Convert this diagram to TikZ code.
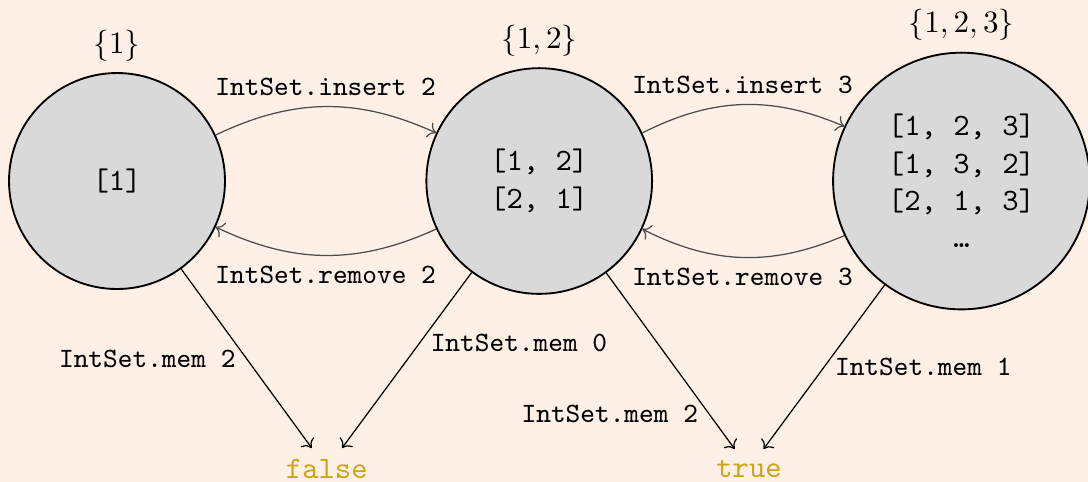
\documentclass[tikz,border=0pt]{standalone}
\usepackage{amsmath,amssymb}
\usepackage{tikz}
\usetikzlibrary{arrows.meta}
\definecolor{bgpeach}{RGB}{255,240,231}
\definecolor{boolgold}{RGB}{205,165,20}

\begin{document}
\begin{tikzpicture}[
  state/.style={circle, draw, semithick, fill=gray!30, font=\ttfamily, align=center},
  op/.style={font=\ttfamily\small, text=black},
  trans/.style={-{To}, black!70},
  result/.style={font=\ttfamily, text=boolgold}]
  \fill[bgpeach] (-1.322,-3.40) rectangle (10.97,2.045);
  \useasboundingbox (-1.322,-3.40) rectangle (10.97,2.045);

  \node[state, minimum size=2.44cm, label=above:{$\{1\}$}] (s1) at (0,0) {[1]};
  \node[state, minimum size=2.55cm, label=above:{$\{1,2\}$}] (s12) at (4.77,0) {[1, 2]\\{}[2, 1]};
  \node[state, minimum size=2.9cm, label=above:{$\{1,2,3\}$}] (s123) at (9.54,0)
    {[1, 2, 3]\\{}[1, 3, 2]\\{}[2, 1, 3]\\\dots};
  \node[result] (f) at (2.37,-3.25) {false};
  \node[result] (t) at (7.14,-3.25) {true};

  \draw[trans] (s1) to[bend left=25] node[op, above] {IntSet.insert 2} (s12);
  \draw[trans] (s12) to[bend left=25] node[op, below] {IntSet.remove 2} (s1);
  \draw[trans] (s12) to[bend left=25] node[op, above] {IntSet.insert 3} (s123);
  \draw[trans] (s123) to[bend left=25] node[op, below] {IntSet.remove 3} (s12);

  \draw[-{To}] (s1) -- node[op, left] {IntSet.mem 2} (f);
  \draw[-{To}] (s12) -- node[op, right, pos=0.4] {IntSet.mem 0} (f);
  \draw[-{To}] (s12) -- node[op, left, pos=0.8] {IntSet.mem 2} (t);
  \draw[-{To}] (s123) -- node[op, right] {IntSet.mem 1} (t);
\end{tikzpicture}
\end{document}
